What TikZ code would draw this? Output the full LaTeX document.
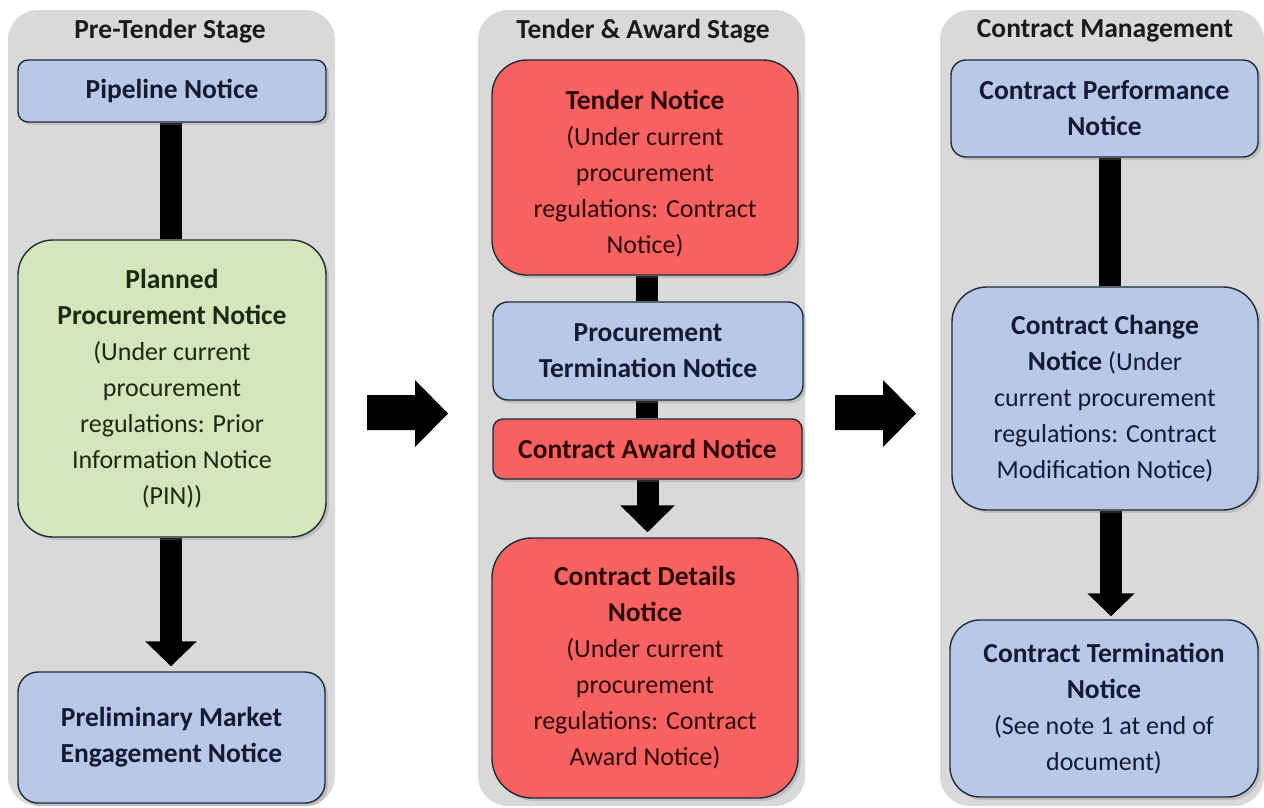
\documentclass[tikz,border=0pt]{standalone}
\usepackage{fontspec}
\setmainfont{Carlito}
\usetikzlibrary{arrows.meta,shadows}
\pgfdeclarelayer{back}
\pgfdeclarelayer{mid}
\pgfsetlayers{back,mid,main}
\definecolor{bgray}{HTML}{D9D9D9}
\definecolor{bblue}{HTML}{B7C9E6}
\definecolor{bgreen}{HTML}{D5E5BC}
\definecolor{bred}{HTML}{FA6262}
\definecolor{edge}{HTML}{1E2A38}
\definecolor{tblue}{HTML}{141A33}
\definecolor{tred}{HTML}{2E0808}
\definecolor{tgreen}{HTML}{1C2A10}
\definecolor{thead}{HTML}{1A1A1A}
\newcommand{\bt}[1]{{\fontsize{27.5}{36}\selectfont\bfseries #1}}
\begin{document}
\begin{tikzpicture}[x=1pt,y=-1pt,
  stage/.style={fill=bgray, draw=none, rounded corners=30pt},
  head/.style={font=\fontsize{27.5}{30}\selectfont\bfseries, text=thead, inner sep=0pt},
  box/.style={draw=edge, line width=1.4pt, align=center, inner sep=0pt,
    font=\fontsize{26}{36}\selectfont,
    drop shadow={shadow xshift=3pt, shadow yshift=-3pt, opacity=0.3}},
  bluebox/.style={box, fill=bblue, text=tblue},
  greenbox/.style={box, fill=bgreen, text=tgreen},
  redbox/.style={box, fill=bred, text=tred},
  bar/.style={line width=22pt, draw=black},
  downarrow/.style={bar, -{Triangle[length=25pt 0 0, width=50pt 0 0]}, shorten >=5pt},
  bigarrow/.style={fill=black}
]
\useasboundingbox (0,0) rectangle (1264,808);
\begin{pgfonlayer}{back}
  \fill[white] (0,0) rectangle (1264,808);
  \fill[stage] (8,10) rectangle (335,806);
  \fill[stage] (478,10) rectangle (805,806);
  \fill[stage] (940,10) rectangle (1264,806);
\end{pgfonlayer}

% headings
\node[head] (h1) at (170,31) {Pre-Tender Stage};
\node[head] (h2) at (643,31) {Tender \& Award Stage};
\node[head] (h3) at (1105,31) {Contract Management};

% column 1
\node[bluebox, minimum width=308pt, minimum height=62pt, rounded corners=10pt] (pipe) at (172,91)
  {\bt{Pipeline Notice}};
\node[greenbox, minimum width=308pt, minimum height=297pt, rounded corners=35pt] (planned) at (172,388.5)
  {\bt{Planned}\\\bt{Procurement Notice}\\(Under current\\procurement\\regulations: Prior\\Information Notice\\(PIN))};
\node[bluebox, minimum width=307pt, minimum height=131pt, rounded corners=20pt] (prelim) at (171.5,737.5)
  {\bt{Preliminary Market}\\\bt{Engagement Notice}};

% column 2
\node[redbox, minimum width=306pt, minimum height=215pt, rounded corners=35pt] (tender) at (645,167.5)
  {\rule{0pt}{31pt}\bt{Tender Notice}\\(Under current\\procurement\\regulations: Contract\\Notice)};
\node[bluebox, minimum width=310pt, minimum height=98pt, rounded corners=15pt] (procterm) at (648,351)
  {\bt{Procurement}\\\bt{Termination Notice}};
\node[redbox, minimum width=309pt, minimum height=60pt, rounded corners=10pt] (award) at (647.5,449)
  {\bt{Contract Award Notice}};
\node[redbox, minimum width=306pt, minimum height=260pt, rounded corners=40pt] (details) at (645,668)
  {\bt{Contract Details}\\\bt{Notice}\\(Under current\\procurement\\regulations: Contract\\Award Notice)};

% column 3
\node[bluebox, minimum width=307pt, minimum height=97pt, rounded corners=15pt] (perf) at (1104.5,108.5)
  {\bt{Contract Performance}\\\bt{Notice}};
\node[bluebox, minimum width=306pt, minimum height=223pt, rounded corners=35pt] (change) at (1105,398.5)
  {\bt{Contract Change}\\\bt{Notice} (Under\\current procurement\\regulations: Contract\\Modification Notice)};
\node[bluebox, minimum width=308pt, minimum height=177pt, rounded corners=30pt] (cterm) at (1104,708.5)
  {\bt{Contract Termination}\\\bt{Notice}\\(See note 1 at end of\\document)};

% connectors
\begin{pgfonlayer}{mid}
  \draw[bar] ([xshift=-1pt]pipe.south) -- ([xshift=-1pt]pipe.south |- planned.north);
  \draw[downarrow] ([xshift=-1pt]planned.south) -- ([xshift=-1pt]planned.south |- prelim.north);
  \draw[bar] ([xshift=-1pt]procterm.north |- tender.south) -- ([xshift=-1pt]procterm.north);
  \draw[bar] ([xshift=-1pt]procterm.south) -- ([xshift=-1pt]procterm.south |- award.north);
  \draw[downarrow, -{Triangle[length=27pt 0 0, width=53pt 0 0]}] (award.south) -- (award.south |- details.north);
  \draw[bar] ([xshift=5.5pt]perf.south) -- ([xshift=5.5pt]perf.south |- change.north);
  \draw[downarrow, -{Triangle[length=23pt 0 0, width=46pt 0 0]}, shorten >=3pt] ([xshift=6pt]change.south) -- ([xshift=6pt]change.south |- cterm.north);
\end{pgfonlayer}

% stage arrows
\fill[bigarrow] (367,395) -- (415,395) -- (415,380) -- (448,413.5) -- (415,447) -- (415,430) -- (367,430) -- cycle;
\fill[bigarrow] (835,395) -- (883,395) -- (883,380) -- (916,413.5) -- (883,447) -- (883,430) -- (835,430) -- cycle;
\end{tikzpicture}
\end{document}
